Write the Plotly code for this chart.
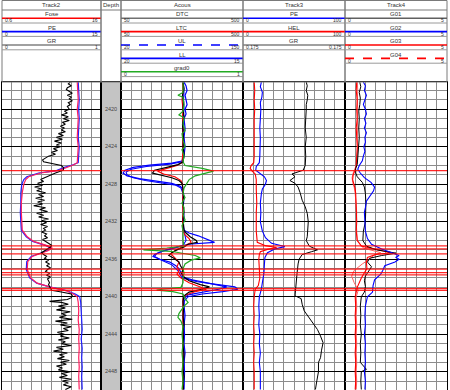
import plotly.graph_objects as go
from plotly.subplots import make_subplots

# ---------------- data ----------------
DEPTH_TOP = 2417.09
DEPTH_BOTTOM = 2449.95
depth_labels = [2420, 2424, 2428, 2432, 2436, 2440, 2444, 2448]
tops = [2426.55, 2434.57, 2434.89, 2435.43, 2437.06, 2437.42, 2437.67, 2439.13, 2439.32]

# Track 1 (left): noisy black curve
t1_gr_d = [2417.1, 2417.3, 2417.5, 2417.7, 2417.9, 2418.1, 2418.3, 2418.5, 2418.7, 2418.9, 2419.1, 2419.3, 2419.5, 2419.7,
           2420.0, 2420.2, 2420.4, 2420.6, 2420.8, 2421.0, 2421.2, 2421.4, 2421.6, 2421.8, 2422.0, 2422.2, 2422.4, 2422.6,
           2422.8, 2423.0, 2423.2, 2423.4, 2423.6, 2423.8, 2424.0, 2424.2, 2424.4, 2424.6, 2424.8, 2425.0, 2425.2, 2425.4,
           2425.6, 2425.8, 2426.0, 2426.2, 2426.5, 2426.8, 2427.0, 2427.3, 2427.5, 2427.7, 2427.9, 2428.1, 2428.3, 2428.5,
           2428.7, 2428.9, 2429.1, 2429.3, 2429.5, 2429.7, 2429.9, 2430.1, 2430.3, 2430.5, 2430.7, 2430.9, 2431.1, 2431.3,
           2431.5, 2431.7, 2431.9, 2432.1, 2432.3, 2432.5, 2432.7, 2432.9, 2433.1, 2433.3, 2433.5, 2433.7, 2433.9, 2434.1,
           2434.3, 2434.5, 2434.7, 2434.9, 2435.1, 2435.3, 2435.5, 2435.7, 2435.9, 2436.1, 2436.3, 2436.5, 2436.7, 2436.9,
           2437.1, 2437.3, 2437.5, 2437.7, 2437.9, 2438.1, 2438.3, 2438.5, 2438.7, 2438.9, 2439.1, 2439.3, 2439.5, 2439.7,
           2439.9, 2440.1, 2440.3, 2440.5, 2440.6, 2440.8, 2441.0, 2441.2, 2441.4, 2441.6, 2441.8, 2442.0, 2442.2, 2442.4,
           2442.6, 2442.8, 2443.0, 2443.2, 2443.4, 2443.6, 2443.8, 2444.0, 2444.2, 2444.4, 2444.6, 2444.8, 2445.0, 2445.2,
           2445.4, 2445.6, 2445.8, 2446.0, 2446.2, 2446.4, 2446.6, 2446.8, 2447.0, 2447.2, 2447.4, 2447.6, 2447.8, 2448.0,
           2448.2, 2448.4, 2448.6, 2448.8, 2449.0, 2449.2, 2449.4, 2449.6, 2449.9]
t1_gr_v = [69, 67, 70, 66, 65, 68, 71, 66, 70, 68, 71, 67, 69, 66,
           68, 63, 66, 60, 67, 62, 68, 61, 64, 59, 63, 60, 64, 57,
           62, 55, 61, 53, 60, 55, 59, 52, 56, 50, 54, 47, 44, 41,
           42, 52, 60, 62, 62, 54, 49, 43, 39, 42, 36, 41, 33, 40,
           35, 44, 37, 42, 34, 43, 36, 41, 32, 44, 38, 46, 35, 42,
           37, 47, 40, 45, 39, 46, 42, 44, 40, 45, 43, 46, 41, 44,
           48, 50, 49, 46, 44, 40, 42, 45, 43, 47, 44, 48, 45, 49,
           46, 44, 48, 45, 49, 46, 47, 48, 47, 48, 49, 50, 60, 70,
           71, 70, 66, 48, 60, 67, 57, 64, 55, 69, 60, 65, 58, 71,
           54, 66, 59, 70, 62, 67, 56, 63, 59, 68, 57, 64, 60, 70,
           55, 62, 52, 66, 58, 63, 56, 68, 59, 65, 55, 61, 57, 69,
           60, 66, 58, 70, 61, 67, 62, 70, 64]

t1_rb_d = [2417.1, 2418.0, 2419.0, 2420.0, 2421.0, 2422.0, 2423.0, 2424.0, 2425.0, 2425.7, 2425.95, 2426.2, 2426.55,
           2426.8, 2427.2, 2427.5, 2428.0, 2428.9, 2430.0, 2431.0, 2432.0, 2432.9, 2433.6, 2434.1, 2434.55, 2434.82,
           2435.07, 2435.35, 2435.7, 2436.25, 2437.1, 2438.0, 2438.55, 2438.98, 2439.34, 2439.7, 2440.0, 2440.6, 2441.5,
           2442.5, 2443.5, 2444.5, 2445.5, 2446.5, 2447.5, 2448.5, 2449.9]
t1_red_v = [76, 76.5, 77, 76, 77, 76.5, 76, 77, 76.5, 76, 72, 65, 57, 39, 27, 24, 22, 20.5, 19.5, 19.5, 20, 20.5,
            25.5, 32, 45.5, 50.5, 47, 39, 30.5, 26, 25.5, 29, 35.5, 49, 64, 72, 76, 77, 77.5, 77, 78, 77.5, 78, 77.5,
            78, 77.5, 78]
t1_blue_v = [77, 77.5, 78, 77.5, 78, 77.5, 77, 78, 77.5, 77, 71, 63, 55, 37, 25, 22, 20, 19, 19, 18.5, 19, 19.5,
             24.5, 31, 44.5, 49.5, 46, 38, 29.5, 25, 24.5, 28, 35, 49, 65, 74, 78.5, 79.5, 80, 80.5, 81, 80, 81, 80.5,
             81, 80.5, 81]

# Track 2 (Acous)
t2_ll_d = [2417.1, 2417.5, 2418.0, 2418.5, 2419.0, 2419.5, 2420.0, 2420.5, 2421.0, 2422.0, 2423.0, 2424.0, 2425.0,
           2425.5, 2425.75, 2425.95, 2426.2, 2426.5, 2426.8, 2427.1, 2427.4, 2427.65, 2427.9, 2428.2, 2428.5, 2429.5,
           2430.5, 2431.5, 2432.5, 2432.9, 2433.2, 2433.5, 2433.9, 2434.2, 2434.4, 2434.6, 2434.9, 2435.2, 2435.5,
           2435.7, 2436.0, 2436.3, 2436.7, 2437.0, 2437.5, 2437.9, 2438.2, 2438.5, 2438.75, 2438.95, 2439.2, 2439.5,
           2439.8, 2440.2, 2441, 2442, 2443, 2444, 2445, 2446, 2447, 2448, 2449, 2449.9]
t2_ll_v = [62, 64, 65, 63, 64, 65, 63, 64, 62, 63, 62, 63, 62, 61, 50, 28, 12, 4, 2, 6, 18, 32, 50, 58, 61, 62, 61,
           62, 61, 62, 67, 76, 85, 92, 66, 60, 49, 39, 33, 31.5, 38, 48, 54, 57, 59, 61, 70, 84, 97, 104, 96, 80, 66,
           62, 62, 63, 62, 62.5, 62, 63, 62, 62.5, 62, 62]

t2_ul_d = [2417.1, 2418, 2419, 2420, 2421, 2422, 2423, 2424, 2425, 2425.6, 2425.85, 2426.1, 2426.4, 2426.7, 2427.0,
           2427.3, 2427.6, 2427.85, 2428.1, 2428.4, 2429, 2430, 2431, 2432, 2433, 2434.0, 2434.5, 2434.8, 2435.1,
           2435.4, 2435.7, 2436.1, 2436.6, 2437.2, 2438.0, 2438.4, 2438.7, 2438.95, 2439.2, 2439.45, 2439.7, 2440.0,
           2440.5, 2441.5, 2443, 2445, 2447, 2449.9]
t2_ul_v = [61, 62, 61.5, 62, 61, 61.5, 61, 62, 61, 60, 48, 25, 10, 5, 6, 12, 24, 40, 54, 59, 61, 61, 61.5, 61, 62,
           64, 61, 52, 42, 35, 33, 40, 50, 56, 60, 75, 95, 112, 115, 100, 80, 66, 62, 61.5, 62, 61.5, 62, 61.5]

t2_ltc_d = [2417.1, 2418, 2419, 2420, 2421, 2422, 2423, 2424, 2425, 2425.7, 2426.0, 2426.3, 2426.6, 2426.9, 2427.2,
            2427.6, 2428.0, 2429, 2430, 2431, 2432, 2433.0, 2433.4, 2433.8, 2434.2, 2434.6, 2435.0, 2435.4, 2435.8,
            2436.3, 2436.8, 2437.2, 2437.6, 2438.0, 2438.5, 2438.9, 2439.2, 2439.5, 2439.8, 2440.2, 2441, 2442, 2443,
            2444, 2445, 2446, 2447, 2448, 2449.9]
t2_ltc_v = [60.5, 61, 60, 61, 60.5, 61, 60.5, 61, 60.5, 60, 55, 45, 36, 42, 53, 59, 60.5, 61, 60.5, 61, 60.5, 61,
            63, 67, 69, 62, 54, 49, 53, 57, 55, 57, 55, 59, 67, 76, 84, 72, 64, 61, 61, 60.5, 61, 60.5, 61, 60.5, 61,
            60.5, 61]

t2_dtc_d = [2417.1, 2417.8, 2418.5, 2419.2, 2420, 2420.8, 2421.6, 2422.4, 2423.2, 2424, 2424.8, 2425.6, 2425.9,
            2426.2, 2426.5, 2426.8, 2427.0, 2427.3, 2427.6, 2427.9, 2428.5, 2429.3, 2430.1, 2430.9, 2431.7, 2432.5,
            2432.9, 2433.2, 2433.6, 2434.0, 2434.2, 2434.4, 2434.7, 2435.0, 2435.3, 2435.6, 2435.9, 2436.3, 2436.7,
            2437.1, 2437.5, 2437.9, 2438.3, 2438.7, 2438.95, 2439.2, 2439.5, 2439.9, 2440.5, 2441.3, 2442.1, 2442.9,
            2443.7, 2444.5, 2445.3, 2446.1, 2446.9, 2447.7, 2448.5, 2449.3, 2449.9]
t2_dtc_v = [61, 62, 60.5, 61.5, 61, 62, 60.5, 61, 61.5, 61, 62, 61, 56, 45, 33, 31, 38, 50, 57, 60, 61, 61.5, 61,
            62, 61, 61.5, 62, 64, 68, 74, 75, 66, 62, 55, 50, 47, 52, 57, 58.5, 61, 59.5, 62, 67, 78, 87, 79, 67, 62,
            61, 61.5, 61, 62, 61, 61.5, 61, 62, 61.5, 61, 62, 61, 61.5]

t2_grad_d = [2417.1, 2418.2, 2418.5, 2418.7, 2419.5, 2420.2, 2420.6, 2420.9, 2421.6, 2422.3, 2422.6, 2423.3, 2424.0,
             2424.3, 2425.0, 2425.6, 2426.0, 2426.3, 2426.6, 2426.85, 2427.1, 2427.5, 2428.0, 2428.4, 2429.0, 2429.4,
             2430.0, 2430.5, 2431.2, 2431.8, 2432.4, 2433.0, 2434.0, 2434.6, 2434.8, 2435.0, 2435.15, 2435.4, 2435.6,
             2435.85, 2436.1, 2436.5, 2437.0, 2437.5, 2438.0, 2438.5, 2439.0, 2439.2, 2439.3, 2439.45, 2439.7, 2440.2,
             2440.6, 2441.0, 2441.8, 2442.2, 2442.6, 2443.2, 2444.0, 2445.0, 2446.0, 2447.0, 2448.0, 2449.0, 2449.9]
t2_grad_v = [61, 61, 56, 61, 62, 61, 57, 62, 61, 63, 60, 61, 63, 60, 62, 61, 63, 80, 91, 83, 73, 67, 64, 62, 61, 63,
             60, 62, 61, 63, 60, 61, 61, 62, 45, 22, 49, 63, 73, 78, 69, 63, 61, 62, 61, 61, 59, 41, 35, 51, 61, 63,
             66, 62, 57, 56, 59, 61, 60, 61, 60, 61, 60, 61, 60]

# Track 3
t3_hel_d = [2417.1, 2418, 2419, 2420, 2421, 2422, 2423, 2424, 2425, 2425.7, 2426.0, 2426.3, 2426.6, 2426.9, 2427.5,
            2428.5, 2430, 2431, 2432, 2433, 2434.2, 2434.55, 2434.75, 2434.95, 2435.2, 2435.5, 2436, 2437, 2438,
            2438.8, 2439.2, 2440, 2441, 2442, 2443, 2444, 2445, 2446, 2447, 2448, 2449.9]
t3_hel_v = [11, 11.5, 11, 11.5, 11, 11, 11.5, 11, 11, 10.5, 8, 7, 9, 12, 13, 13, 13.5, 13, 13, 13, 14, 22, 33, 24,
            17, 16, 15.5, 16, 16.5, 15, 12, 11, 10.5, 11, 10.5, 11, 10.5, 11, 10.5, 11, 11]

t3_pe_d = [2417.1, 2417.6, 2418.2, 2418.7, 2419.3, 2420, 2421, 2422, 2423, 2424, 2425, 2425.7, 2426.1, 2426.5,
           2426.8, 2427.2, 2427.6, 2428.0, 2428.5, 2429, 2430, 2431, 2432, 2433, 2433.7, 2434.3, 2434.65, 2434.9,
           2435.3, 2435.8, 2436.5, 2437.5, 2438.5, 2439.2, 2440, 2441, 2442, 2443, 2444, 2445, 2446, 2447, 2448,
           2449.9]
t3_pe_v = [18, 17, 19, 18.5, 17, 17.5, 17, 16.5, 17, 17, 16.5, 16, 13, 12.5, 16, 21, 23, 22, 19, 18, 17, 17.5, 17,
           19, 22, 28, 41, 31, 24, 21.5, 21, 20.5, 19, 18, 16, 15.5, 16, 15.5, 16.5, 16, 17, 16, 17, 17]

t3_gr_d = [2417.1, 2417.5, 2418, 2418.5, 2419, 2419.5, 2420, 2421, 2422, 2423, 2424, 2425, 2426, 2426.5, 2426.9,
           2427.2, 2427.6, 2427.9, 2428.3, 2428.9, 2429.7, 2430.4, 2431.1, 2432, 2433, 2433.6, 2434.0, 2434.6,
           2434.8, 2435.0, 2435.2, 2435.5, 2436, 2436.5, 2437.5, 2438.5, 2439.5, 2439.9, 2440.2, 2440.8, 2441.5,
           2442.1, 2442.8, 2443.5, 2444.2, 2444.9, 2445.7, 2446.5, 2447.0, 2448, 2448.9, 2449.6, 2449.9]
t3_gr_v = [62, 63, 62, 63.5, 63, 62, 62, 61.5, 61, 62, 61, 61.5, 61, 59, 48, 51, 46, 51, 54, 56, 58, 61, 63, 64,
           63.5, 63, 62, 65, 69, 73, 67, 58, 55, 54, 53, 52, 51, 51, 57, 58, 60, 64, 69, 73, 76, 78.5, 77, 76, 74,
           74, 72.5, 71, 71]

# Track 4
t4_g01_d = [2417.1, 2417.6, 2418.2, 2418.8, 2419.5, 2420.2, 2421, 2422, 2423, 2424, 2425, 2425.9, 2426.3, 2426.8,
            2427.2, 2427.8, 2428.3, 2429, 2430, 2431, 2432, 2433, 2434, 2434.6, 2435.0, 2435.35, 2435.6, 2435.9,
            2436.3, 2436.8, 2437.3, 2437.8, 2438.3, 2438.9, 2439.5, 2440.0, 2441, 2442, 2443, 2444, 2445, 2446,
            2447, 2447.75, 2448, 2449, 2449.9]
t4_g01_v = [14.5, 15.5, 14, 15, 14.5, 13.5, 14, 13.5, 14, 13.5, 13, 12, 10.5, 10.5, 12, 17, 19, 20, 20.5, 20, 20,
            18, 17.5, 21, 31, 50, 36, 24, 22, 26, 23, 20, 19, 20, 19, 16, 15, 15.5, 15, 16, 15, 15.5, 15, 21, 16,
            15.5, 16]

t4_g02_d = [2417.1, 2417.5, 2418, 2418.5, 2419, 2419.5, 2420, 2420.5, 2421, 2421.5, 2422, 2422.5, 2423, 2423.5,
            2424, 2424.5, 2425, 2425.5, 2426.0, 2426.4, 2426.8, 2427.3, 2427.8, 2428.3, 2428.7, 2429.2, 2429.8,
            2430.5, 2431, 2432, 2433, 2433.8, 2434.4, 2434.9, 2435.3, 2435.6, 2435.8, 2436.0, 2436.3, 2436.7, 2437.2,
            2437.6, 2438.2, 2438.8, 2439.5, 2440.0, 2441, 2442, 2443, 2444, 2445, 2446, 2447, 2448, 2449, 2449.9]
t4_g02_v = [18, 20, 19, 21, 19.5, 18, 20, 21, 19, 20.5, 19, 21, 19.5, 20, 18.5, 19.5, 18, 17, 14, 12.5, 15, 19,
            25.5, 29, 28, 25, 21, 20, 19, 19.5, 20, 22, 26, 36, 46, 53, 50, 53, 49, 39, 37, 35, 29, 27.5, 27, 22,
            20, 19.5, 20, 19, 20, 19.5, 20, 19, 20, 19.5]

t4_g03_d = [2417.1, 2418, 2419, 2420, 2421, 2422, 2423, 2424, 2425, 2426, 2426.5, 2427.0, 2427.5, 2428, 2428.5,
            2429, 2430, 2431, 2432, 2433, 2434, 2434.6, 2435.0, 2435.3, 2435.5, 2435.8, 2436.3, 2437, 2438, 2439,
            2440, 2441, 2442, 2443, 2444, 2445, 2446, 2447, 2448, 2449, 2449.9]
t4_g03_v = [11.5, 11, 12, 11.5, 12, 11, 11.5, 12, 11.5, 11, 10, 8, 7.5, 9, 10, 10.5, 11, 11, 11.5, 11, 12, 16, 31,
            45, 30, 22, 21, 21.5, 16, 12, 10, 10.5, 10, 10.5, 10, 10.5, 10, 10.5, 10, 10.5, 10]

t4_g04_d = [2417.1, 2418, 2419, 2420, 2421, 2422, 2423, 2424, 2425, 2426, 2426.8, 2427.3, 2427.8, 2428.3, 2429,
            2430, 2431, 2432, 2433, 2434, 2434.8, 2435.3, 2435.6, 2436.0, 2436.5, 2437.2, 2437.8, 2438.5, 2439.3,
            2440, 2441, 2442, 2443, 2444, 2445, 2446, 2447, 2448, 2449, 2449.9]
t4_g04_v = [12, 12.5, 12, 12.5, 12, 12.5, 12, 12.5, 12, 11, 8, 7, 7.5, 9, 10, 11, 11.5, 11, 11.5, 12, 18, 35, 28,
            24, 17, 9, 6.5, 9, 13, 11, 11.5, 11, 11.5, 11, 11.5, 11, 11.5, 11, 11.5, 11]

# Header texts
track_titles = ["Track2", "Depth", "Acous", "Track3", "Track4"]
header_entries = {
    1: [("Fose", "#ff0000", "solid", "0.6", "16"),
        ("PE", "#0000ff", "solid", "0", "15"),
        ("GR", "#808080", "solid", "0", "1")],
    3: [("DTC", "#707070", "solid", "50", "500"),
        ("LTC", "#ff0000", "solid", "50", "500"),
        ("UL", "#0000ff", "dash", "20", "150"),
        ("LL", "#0000ff", "solid", "20", "15"),
        ("grad0", "#22aa22", "solid", "0", "1")],
    4: [("PE", "#0000ff", "solid", "0", "100"),
        ("HEL", "#ff0000", "solid", "0", "100"),
        ("GR", "#808080", "solid", "0.175", "0.175")],
    5: [("G01", "#606060", "solid", "0", "5"),
        ("G02", "#0000ff", "solid", "0", "5"),
        ("G03", "#ff0000", "solid", "0", "5"),
        ("G04", "#ff0000", "dash", "0", "5")],
}

# ---------------- figure ----------------
W, H = 450, 390
TOP_PX = 82
GRID = "#8c8c8c"
FONT = "Liberation Sans, Arial, sans-serif"

fig = make_subplots(rows=1, cols=5, shared_yaxes=True, horizontal_spacing=0,
                    column_widths=[99, 20, 122, 102, 102])


def line_trace(x, y, color, width=1.1, col=1):
    fig.add_trace(go.Scatter(x=x, y=y, mode="lines", line=dict(color=color, width=width),
                             hoverinfo="skip", showlegend=False), row=1, col=col)


# track 1
line_trace(t1_blue_v, t1_rb_d, "#2020ff", 1.2, 1)
line_trace(t1_red_v, t1_rb_d, "#ff2060", 1.2, 1)
line_trace(t1_gr_v, t1_gr_d, "#000000", 1.1, 1)
# track 2
line_trace(t2_ul_v, t2_ul_d, "#0000ff", 1.1, 3)
line_trace(t2_ll_v, t2_ll_d, "#0000ff", 1.2, 3)
line_trace(t2_ltc_v, t2_ltc_d, "#ff0000", 1.1, 3)
line_trace(t2_dtc_v, t2_dtc_d, "#000000", 1.2, 3)
line_trace(t2_grad_v, t2_grad_d, "#22aa22", 1.2, 3)
# track 3
line_trace(t3_hel_v, t3_hel_d, "#ff0000", 1.1, 4)
line_trace(t3_pe_v, t3_pe_d, "#0000ff", 1.1, 4)
line_trace(t3_gr_v, t3_gr_d, "#000000", 1.0, 4)
# track 4
line_trace(t4_g04_v, t4_g04_d, "#ff6060", 1.0, 5)
line_trace(t4_g03_v, t4_g03_d, "#ff0000", 1.1, 5)
line_trace(t4_g01_v, t4_g01_d, "#000000", 1.0, 5)
line_trace(t4_g02_v, t4_g02_d, "#0000ff", 1.1, 5)

# depth labels
fig.add_trace(go.Scatter(x=[0.5] * len(depth_labels), y=depth_labels, mode="text",
                         text=[str(d) for d in depth_labels],
                         textfont=dict(size=5.5, color="#444444", family=FONT),
                         hoverinfo="skip", showlegend=False), row=1, col=2)

x_ranges = {1: [0, 100], 2: [0, 1], 3: [0, 120], 4: [0, 100], 5: [0, 100]}
for c in range(1, 6):
    fig.update_xaxes(row=1, col=c, range=x_ranges[c], showticklabels=False, ticks="", zeroline=False,
                     showline=True, linecolor="black", linewidth=1, mirror=True,
                     showgrid=(c != 2), gridcolor=GRID, gridwidth=1, tick0=0, dtick=10)
    fig.update_yaxes(row=1, col=c, range=[DEPTH_BOTTOM, DEPTH_TOP], showticklabels=False, ticks="",
                     zeroline=False, showline=True, linecolor="black", linewidth=1, mirror=True,
                     showgrid=(c != 2), gridcolor="#000000", gridwidth=1.3, tick0=2420, dtick=4,
                     minor=dict(tick0=2420, dtick=1, showgrid=(c != 2), gridcolor=GRID, gridwidth=1))

axname = {1: "x", 2: "x2", 3: "x3", 4: "x4", 5: "x5"}
yname = {1: "y", 2: "y2", 3: "y3", 4: "y4", 5: "y5"}

# depth column fill
fig.add_shape(type="rect", xref="x2 domain", yref="y2 domain", x0=0, x1=1, y0=0, y1=1,
              fillcolor="#c4c4c4", line=dict(width=0), layer="below")

# formation tops (red lines) in all tracks except depth
for c in (1, 3, 4, 5):
    for t in tops:
        fig.add_shape(type="line", xref=f"{axname[c]} domain", yref=yname[c], x0=0, x1=1, y0=t, y1=t,
                      line=dict(color="rgba(255,0,0,0.85)", width=1.2))


def pp(py):
    return (H - py) / (H - TOP_PX)


# header
for c in range(1, 6):
    xr = f"{axname[c]} domain"
    fig.add_shape(type="rect", xref=xr, yref="paper", x0=0, x1=1, y0=pp(TOP_PX), y1=pp(0.5),
                  line=dict(color="#7a7a7a", width=1), fillcolor="rgba(0,0,0,0)")
    fig.add_shape(type="line", xref=xr, yref="paper", x0=0, x1=1, y0=pp(10), y1=pp(10),
                  line=dict(color="#7a7a7a", width=1))
    fig.add_annotation(xref=xr, yref="paper", x=0.5, y=pp(5.2), text=track_titles[c - 1], showarrow=False,
                       font=dict(size=6, color="#333333", family=FONT), xanchor="center", yanchor="middle")
    for i, (name, color, dash, lo, hi) in enumerate(header_entries.get(c, [])):
        top = 10 + 13.4 * i
        fig.add_annotation(xref=xr, yref="paper", x=0.5, y=pp(top + 4.3), text=name, showarrow=False,
                           font=dict(size=6, color="#333333", family=FONT), xanchor="center", yanchor="middle")
        fig.add_shape(type="line", xref=xr, yref="paper", x0=0.0, x1=1.0, y0=pp(top + 8.2), y1=pp(top + 8.2),
                      line=dict(color=color, width=1.6, dash=dash))
        fig.add_annotation(xref=xr, yref="paper", x=0.01, y=pp(top + 10.3), text=lo, showarrow=False,
                           font=dict(size=5, color="#333333", family=FONT), xanchor="left", yanchor="middle")
        fig.add_annotation(xref=xr, yref="paper", x=0.99, y=pp(top + 10.3), text=hi, showarrow=False,
                           font=dict(size=5, color="#333333", family=FONT), xanchor="right", yanchor="middle")
        fig.add_shape(type="line", xref=xr, yref="paper", x0=0, x1=1, y0=pp(top + 13.0), y1=pp(top + 13.0),
                      line=dict(color="#9a9a9a", width=1))

fig.update_layout(width=W, height=H, margin=dict(l=2, r=3, t=TOP_PX, b=0),
                  paper_bgcolor="white", plot_bgcolor="white", showlegend=False,
                  font=dict(family=FONT))

fig.write_html("out.html")
